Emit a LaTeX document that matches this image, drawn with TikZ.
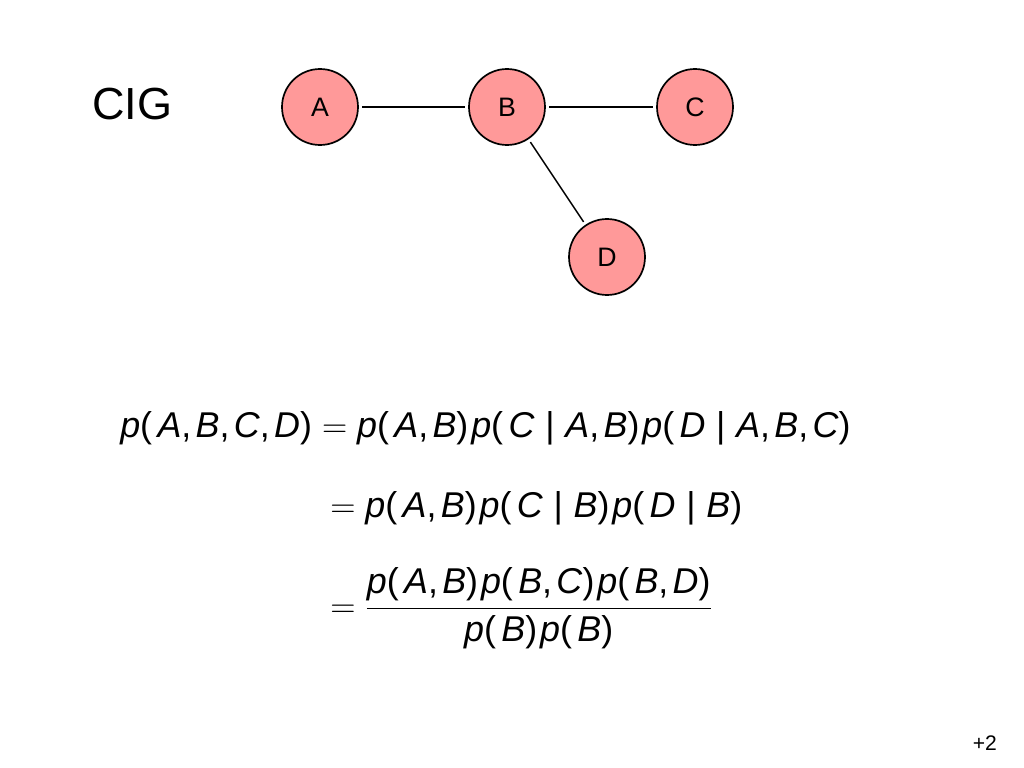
\documentclass[tikz,border=0pt]{standalone}
\usepackage{fontspec}
\setmainfont{Liberation Sans}
\usepackage{xcolor}
\usepackage{tikz}
\usetikzlibrary{positioning}
\definecolor{VarPink}{HTML}{FF9999}
\newcommand{\vi}[1]{\textit{#1}}
\newcommand{\vop}{(\kern.15em}
\newcommand{\vsep}{,\kern.12em}
\newcommand{\vbar}{\kern.3em|\kern.3em}
\newcommand{\vcl}{)\kern.08em}

\begin{document}
\begin{tikzpicture}[
  vnode/.style={circle, draw, line width=1.2pt, fill=VarPink, minimum size=1.9cm,
    inner sep=0pt, outer sep=3pt, font=\fontsize{19}{22}\selectfont},
  link/.style={line width=1pt},
  eqn/.style={anchor=base west, inner sep=0pt, font=\fontsize{25.5}{30}\selectfont}
]
  \useasboundingbox (0,0) rectangle (25.6,-19.2);
  % Title
  \node[anchor=west, inner sep=0pt, font=\fontsize{32}{36}\selectfont] (title) at (2.3,-2.6) {CIG};
  % Graph nodes
  \node[vnode] (A) at (8.0,-2.675) {A};
  \node[vnode] (B) at (12.675,-2.675) {B};
  \node[vnode] (C) at (17.375,-2.675) {C};
  \node[vnode] (D) at (15.175,-6.425) {D};
  % Edges
  \draw[link] (A) -- (B);
  \draw[link] (B) -- (C);
  \draw[link] (B) -- (D);
  % Factorisation
  \node[eqn] (eqone) at (3.0,-10.925)
    {\vi{p}\vop\vi{A}\vsep\vi{B}\vsep\vi{C}\vsep\vi{D}) $=$ \vi{p}\vop\vi{A}\vsep\vi{B}\vcl\vi{p}\vop\vi{C}\vbar\vi{A}\vsep\vi{B}\vcl\vi{p}\vop\vi{D}\vbar\vi{A}\vsep\vi{B}\vsep\vi{C})};
  \node[eqn] (eqtwo) at (8.25,-12.925)
    {$=$ \vi{p}\vop\vi{A}\vsep\vi{B}\vcl\vi{p}\vop\vi{C}\vbar\vi{B}\vcl\vi{p}\vop\vi{D}\vbar\vi{B})};
  \node[anchor=west, inner sep=0pt, font=\fontsize{25.5}{30}\selectfont] (eqthree) at (8.25,-15.2)
    {$=\displaystyle\frac{\hbox{\vi{p}\vop\vi{A}\vsep\vi{B}\vcl\vi{p}\vop\vi{B}\vsep\vi{C}\vcl\vi{p}\vop\vi{B}\vsep\vi{D})}}{\hbox{\vi{p}\vop\vi{B}\vcl\vi{p}\vop\vi{B})}}$};
  % Slide number
  \node[anchor=base east, inner sep=0pt, font=\fontsize{15}{18}\selectfont] (num) at (24.93,-18.75) {+2};
\end{tikzpicture}
\end{document}
